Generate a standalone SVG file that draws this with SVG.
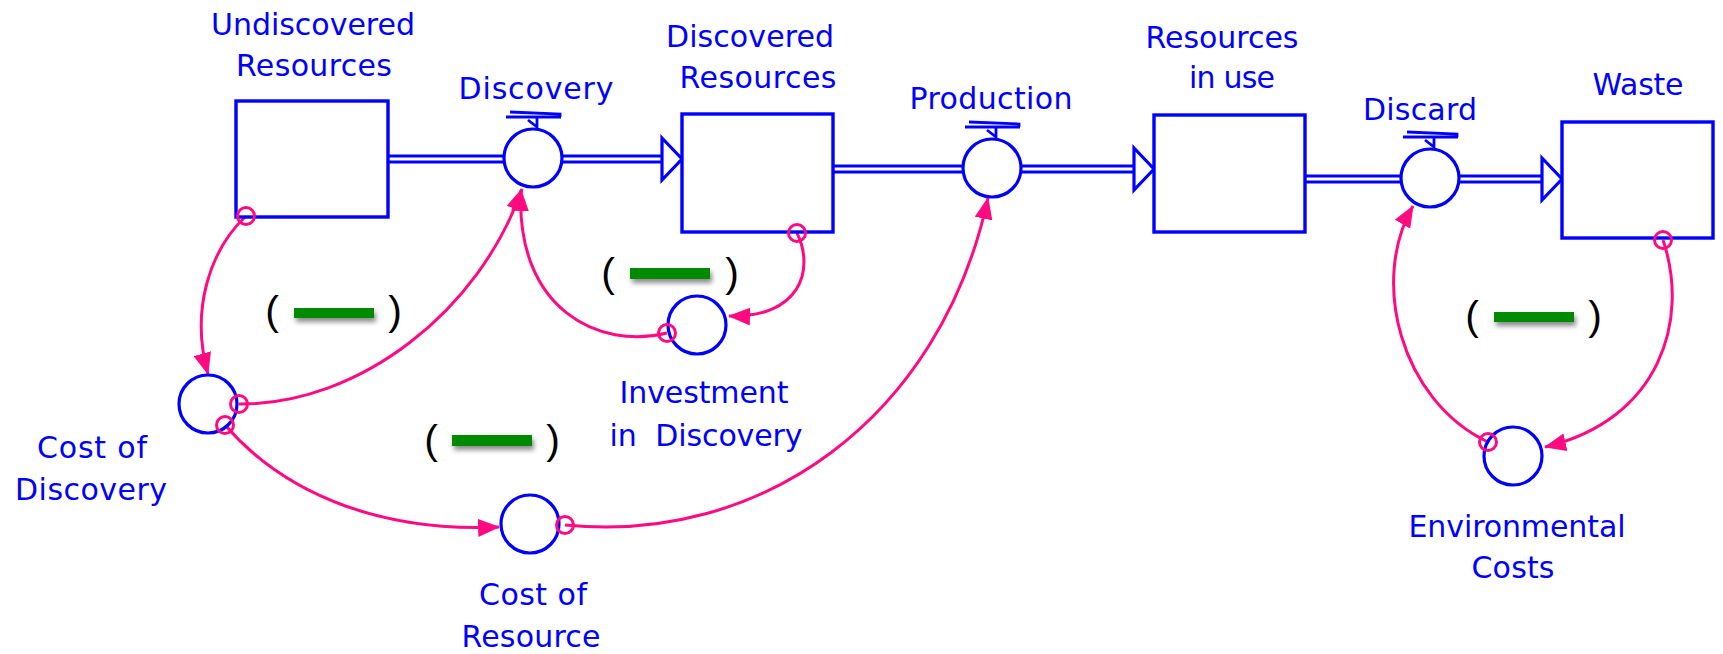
<svg xmlns="http://www.w3.org/2000/svg" width="1723" height="654" viewBox="0 0 1723 654">
<style>
.lbl{font-family:"DejaVu Sans","Liberation Sans",sans-serif;font-size:30px;fill:#0000ff;text-anchor:middle;white-space:pre}
.stock{fill:#ffffff;stroke:#0000ff;stroke-width:3.4}
.aux{fill:#ffffff;stroke:#0000ff;stroke-width:3.2}
.pipeo{stroke:#0000ff;stroke-width:9;fill:none}
.pipei{stroke:#ffffff;stroke-width:3;fill:none}
.head{fill:#ffffff;stroke:#0000ff;stroke-width:3.2;stroke-linejoin:miter}
.vic{stroke:#0000ff;stroke-width:2.8;fill:none}
.link{fill:none;stroke:#ff0a80;stroke-width:3}
.dot{fill:none;stroke:#ff0a80;stroke-width:3}
.par{font-family:"Liberation Sans",Arial,sans-serif;font-size:41px;fill:#000000;text-anchor:middle}
.neg{fill:#008a00;filter:url(#sh)}
</style>
<defs>
<marker id="ah" viewBox="0 0 22 18" refX="21" refY="9" markerWidth="22" markerHeight="18" markerUnits="userSpaceOnUse" orient="auto">
<path d="M0,0 L22,9 L0,18 z" fill="#ff0a80"/>
</marker>
<filter id="sh" x="-20%" y="-60%" width="140%" height="260%">
<feDropShadow dx="2" dy="4" stdDeviation="2.5" flood-color="#000" flood-opacity="0.45"/>
</filter>
<g id="valveicon">
<path class="vic" d="M-27,-41 L28,-41 M-23,-46 L27,-44 L27,-41 M4,-40 L4,-29 M-5,-38 L4,-31"/>
</g>
</defs>

<g id="connectors">
<g id="flow-discovery">
<path class="pipeo" d="M388,159 H505 M561,159 H664"/>
<path class="pipei" d="M386,159 H505 M561,159 H666"/>
<polygon class="head" points="662,138 682,159 662,180"/>
</g>
<g id="flow-production">
<path class="pipeo" d="M833,169 H964 M1020,169 H1136"/>
<path class="pipei" d="M831,169 H964 M1020,169 H1138"/>
<polygon class="head" points="1134,148 1154,169 1134,190"/>
</g>
<g id="flow-discard">
<path class="pipeo" d="M1305,179 H1402 M1458,179 H1544"/>
<path class="pipei" d="M1303,179 H1402 M1458,179 H1546"/>
<polygon class="head" points="1542,158 1562,179 1542,200"/>
</g>
<path class="link" marker-end="url(#ah)" d="M246,216 C210,250 190,310 208,374"/>
<path class="link" marker-end="url(#ah)" d="M239,404 C360,405 480,310 522,189"/>
<path class="link" marker-end="url(#ah)" d="M667,333 C600,350 515,310 521,190"/>
<path class="link" marker-end="url(#ah)" d="M797,233 C815,270 800,318 729,316"/>
<path class="link" marker-end="url(#ah)" d="M225,425 C290,500 390,532 499,527"/>
<path class="link" marker-end="url(#ah)" d="M565,525 C760,545 940,420 988,198"/>
<path class="link" marker-end="url(#ah)" d="M1488,442 C1400,400 1370,280 1413,206"/>
<path class="link" marker-end="url(#ah)" d="M1663,240 C1690,320 1660,420 1545,447"/>
</g>

<g id="undiscovered-resources">
<rect class="stock" x="236" y="101" width="152" height="116"/>
<text class="lbl" x="313" y="35" textLength="204">Undiscovered</text>
<text class="lbl" x="314" y="76" textLength="156">Resources</text>
</g>

<g id="discovery">
<use href="#valveicon" x="533" y="158"/>
<circle class="aux" cx="533" cy="158" r="29"/>
<text class="lbl" x="536" y="99" textLength="155">Discovery</text>
</g>

<g id="discovered-resources">
<rect class="stock" x="682" y="114" width="151" height="118"/>
<text class="lbl" x="750" y="47" textLength="168">Discovered</text>
<text class="lbl" x="758" y="88" textLength="157">Resources</text>
</g>

<g id="production">
<use href="#valveicon" x="992" y="168"/>
<circle class="aux" cx="992" cy="168" r="29"/>
<text class="lbl" x="991" y="109" textLength="163">Production</text>
</g>

<g id="resources-in-use">
<rect class="stock" x="1154" y="115" width="151" height="117"/>
<text class="lbl" x="1222" y="48" textLength="153">Resources</text>
<text class="lbl" x="1232" y="88" textLength="86">in use</text>
</g>

<g id="discard">
<use href="#valveicon" x="1430" y="178"/>
<circle class="aux" cx="1430" cy="178" r="29"/>
<text class="lbl" x="1420" y="120" textLength="114">Discard</text>
</g>

<g id="waste">
<rect class="stock" x="1562" y="122" width="151" height="116"/>
<text class="lbl" x="1638" y="95" textLength="91">Waste</text>
</g>

<g id="cost-of-discovery">
<circle class="aux" cx="208" cy="404" r="29"/>
<text class="lbl" x="92" y="458" textLength="110">Cost of</text>
<text class="lbl" x="91" y="500" textLength="152">Discovery</text>
</g>

<g id="investment-in-discovery">
<circle class="aux" cx="697" cy="325" r="29"/>
<text class="lbl" x="704" y="403" textLength="169">Investment</text>
<text class="lbl" x="706" y="446" textLength="193">in  Discovery</text>
</g>

<g id="cost-of-resource">
<circle class="aux" cx="530" cy="524" r="29"/>
<text class="lbl" x="533" y="605" textLength="108">Cost of</text>
<text class="lbl" x="531" y="647" textLength="139">Resource</text>
</g>

<g id="environmental-costs">
<circle class="aux" cx="1513" cy="456" r="29"/>
<text class="lbl" x="1517" y="537" textLength="217">Environmental</text>
<text class="lbl" x="1513" y="578" textLength="83">Costs</text>
</g>

<g id="link-origins">
<circle class="dot" cx="246" cy="216" r="8.5"/>
<circle class="dot" cx="797" cy="233" r="8.5"/>
<circle class="dot" cx="1663" cy="240" r="8.5"/>
<circle class="dot" cx="239" cy="404" r="8.5"/>
<circle class="dot" cx="225" cy="425" r="8.5"/>
<circle class="dot" cx="667" cy="333" r="8.5"/>
<circle class="dot" cx="565" cy="525" r="8.5"/>
<circle class="dot" cx="1488" cy="442" r="8.5"/>
</g>

<g id="loop-polarity">
<g id="loop1">
<text class="par" x="272" y="325">(</text>
<rect class="neg" x="294" y="308" width="80" height="10"/>
<text class="par" x="395" y="325">)</text>
</g>
<g id="loop2">
<text class="par" x="431" y="454">(</text>
<rect class="neg" x="452" y="435" width="80" height="11"/>
<text class="par" x="553" y="454">)</text>
</g>
<g id="loop3">
<text class="par" x="608" y="287">(</text>
<rect class="neg" x="630" y="268" width="80" height="11"/>
<text class="par" x="732" y="287">)</text>
</g>
<g id="loop4">
<text class="par" x="1472" y="330">(</text>
<rect class="neg" x="1494" y="312" width="80" height="10"/>
<text class="par" x="1595" y="330">)</text>
</g>
</g>
</svg>
